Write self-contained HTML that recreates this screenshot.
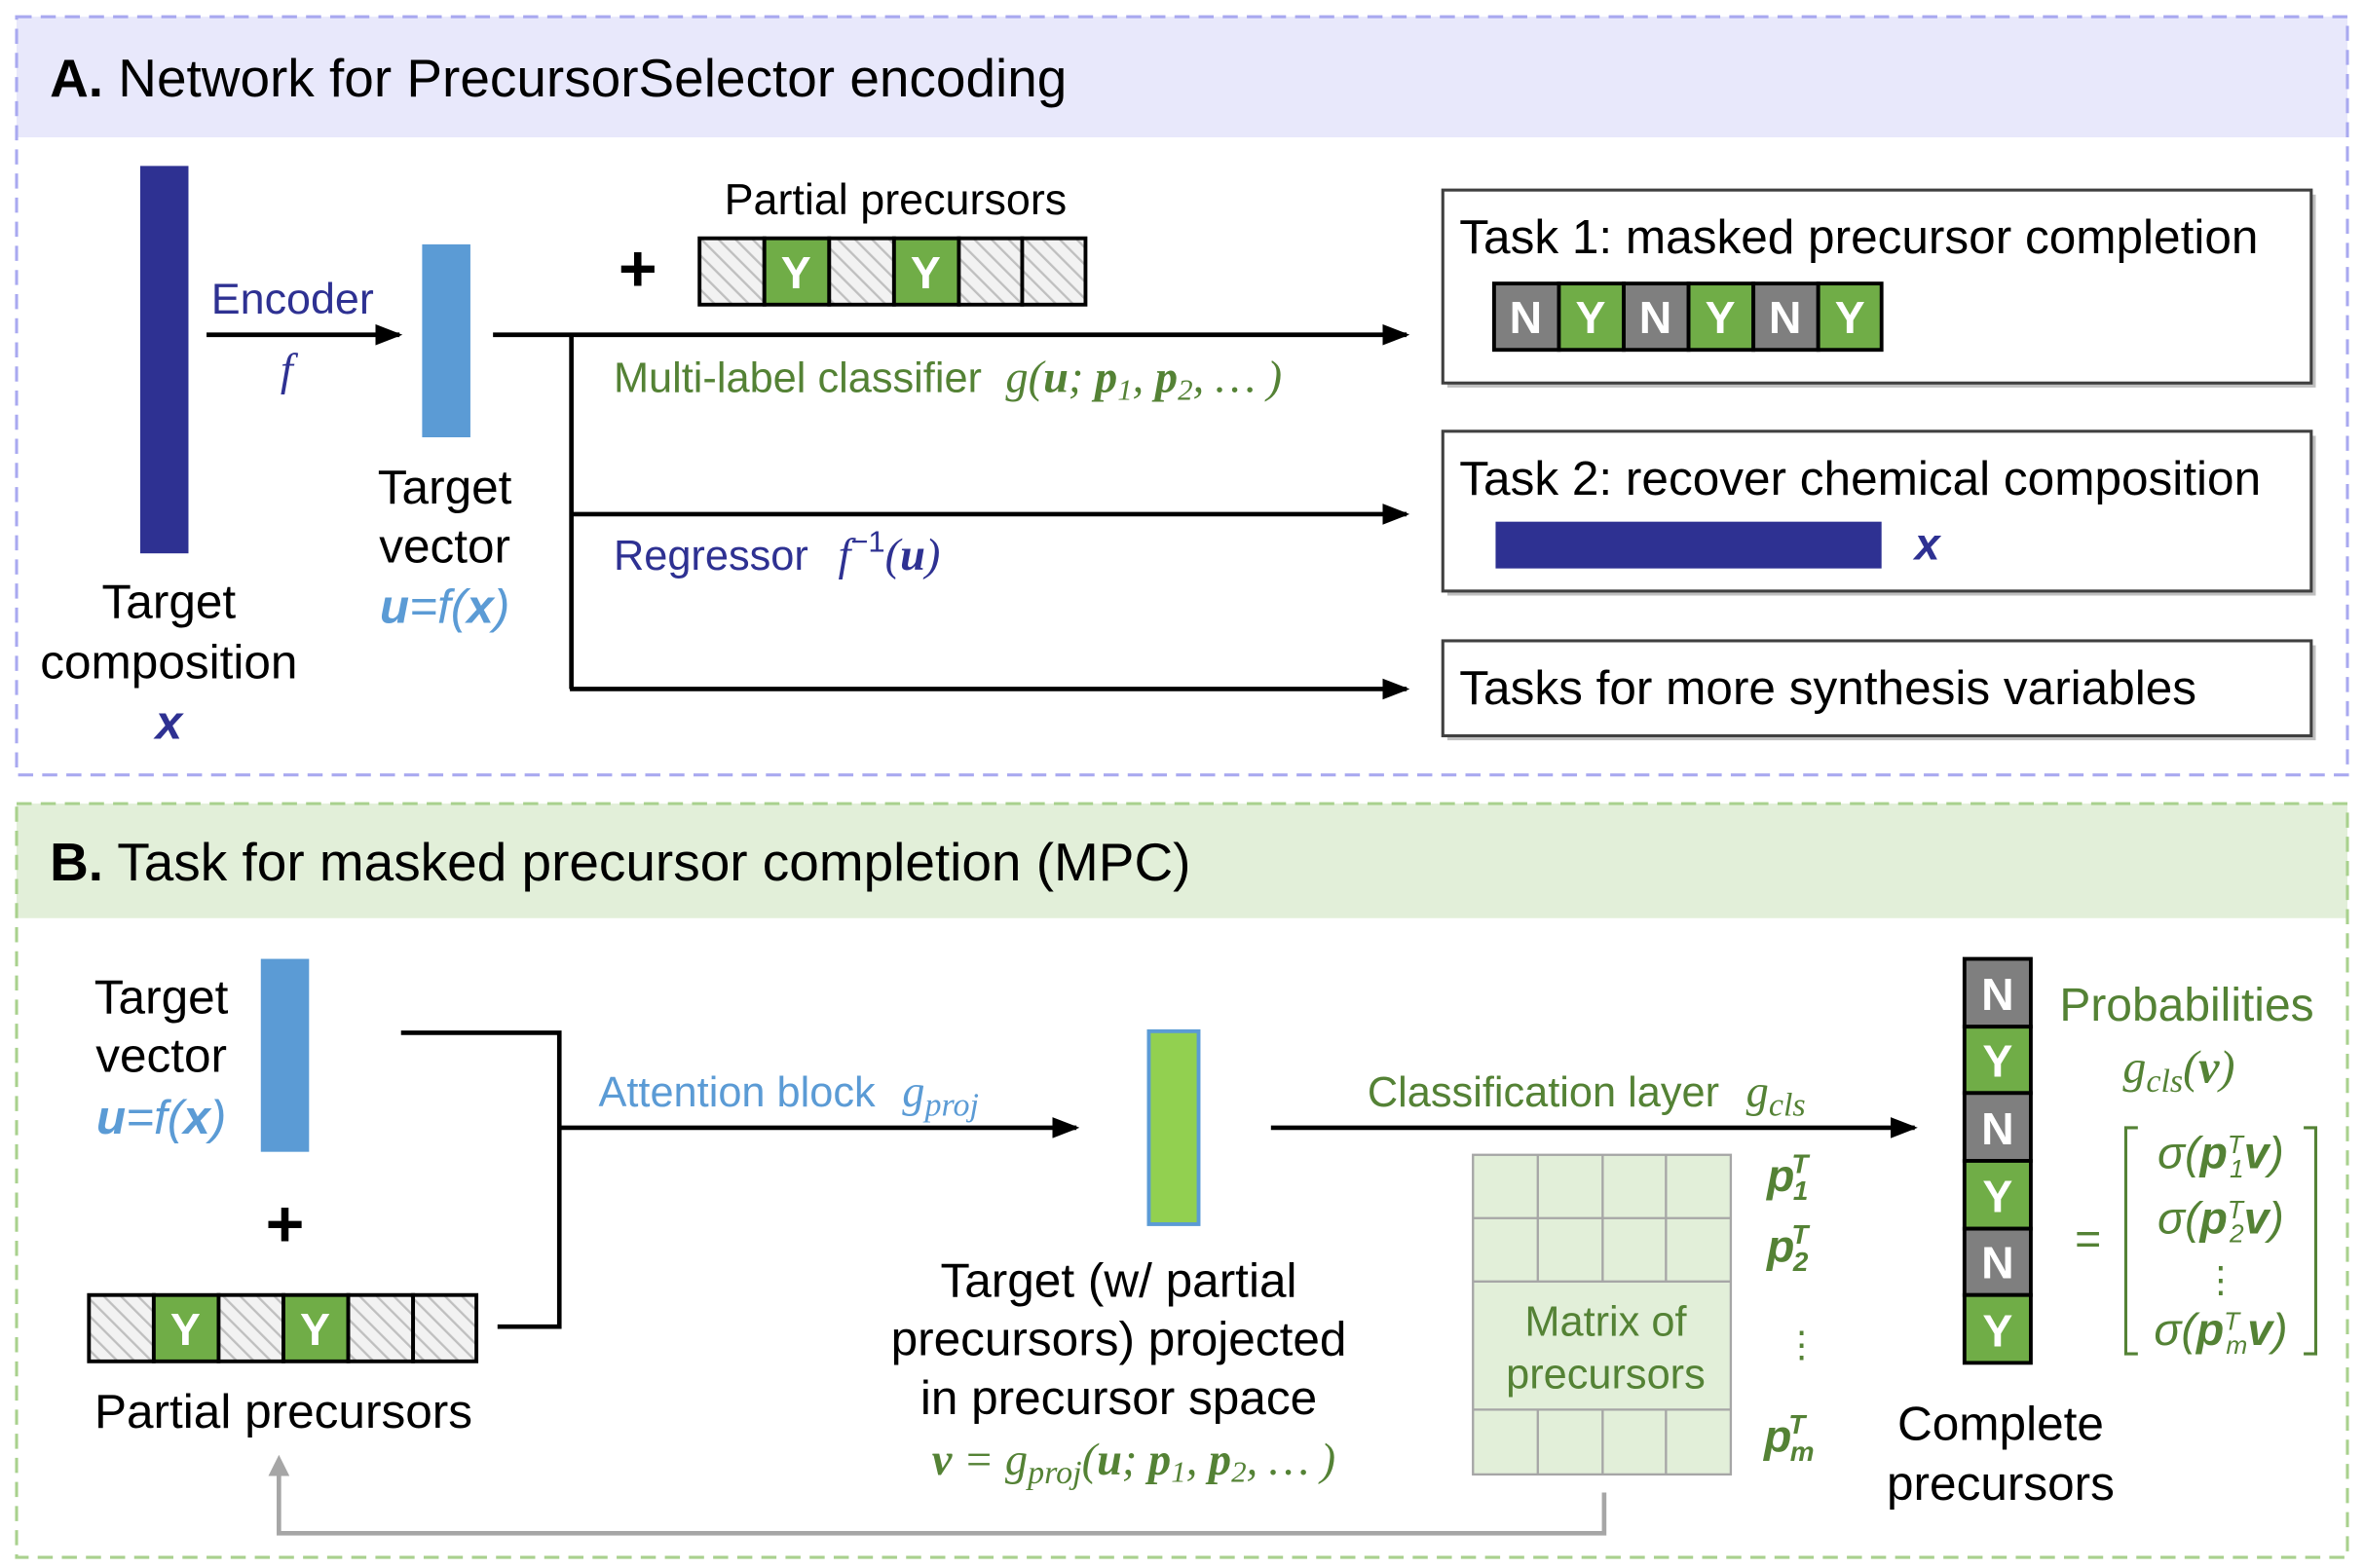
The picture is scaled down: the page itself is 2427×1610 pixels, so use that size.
<!DOCTYPE html>
<html><head><meta charset="utf-8"><style>
html,body{margin:0;padding:0;background:#fff}
svg{display:block}
text{font-family:"Liberation Sans",sans-serif}
.m{font-family:"Liberation Serif",serif;font-style:italic}
</style></head><body>
<svg width="2427" height="1610" viewBox="0 0 1568 1040" xmlns="http://www.w3.org/2000/svg">
<defs>
<pattern id="h" width="8" height="8" patternUnits="userSpaceOnUse" patternTransform="rotate(-45)">
<rect width="8" height="8" fill="#f2f2f2"/><line x1="0" y1="0" x2="0" y2="8" stroke="#bfbfbf" stroke-width="3"/></pattern>
<marker id="ag" markerWidth="14" markerHeight="14" refX="7" refY="7" orient="auto" markerUnits="userSpaceOnUse" viewBox="0 0 14 14"><path d="M0,0L14,7L0,14z" fill="#a6a6a6"/></marker>
<marker id="ab" markerWidth="18" markerHeight="14" refX="16" refY="7" orient="auto" markerUnits="userSpaceOnUse" viewBox="0 0 18 14"><path d="M0,0L18,7L0,14z" fill="#000"/></marker>
</defs>
<!-- Section A -->
<rect x="11" y="11" width="1546" height="80" fill="#e8e8fb"/>
<rect x="11" y="11" width="1546" height="503" fill="none" stroke="#a9a9f0" stroke-width="2" stroke-dasharray="10,6"/>
<text x="33" y="64" font-size="35.5"><tspan font-weight="bold">A.</tspan> Network for PrecursorSelector encoding</text>
<rect x="93" y="110" width="32" height="257" fill="#2e3192"/>
<text x="140" y="208" font-size="29" fill="#2e3192">Encoder</text>
<line x1="137" y1="222" x2="265" y2="222" stroke="#000" stroke-width="3" marker-end="url(#ab)"/>
<text x="186" y="255" font-size="30" fill="#2e3192" class="m">f</text>
<rect x="280" y="162" width="32" height="128" fill="#5b9bd5"/>
<g font-size="32" text-anchor="middle">
<text x="295" y="334">Target</text><text x="295" y="373">vector</text>
<text x="295" y="413" fill="#5b9bd5" font-style="italic"><tspan font-weight="bold">u</tspan>=f(<tspan font-weight="bold">x</tspan>)</text>
<text x="112" y="410">Target</text><text x="112" y="450">composition</text>
<text x="112" y="490" fill="#2e3192" font-style="italic" font-weight="bold">x</text>
</g>
<g stroke="#000" stroke-width="3" fill="none">
<line x1="327" y1="222" x2="933" y2="222" marker-end="url(#ab)"/>
<line x1="379" y1="222" x2="379" y2="457"/>
<line x1="379" y1="341" x2="933" y2="341" marker-end="url(#ab)"/>
<line x1="378" y1="457" x2="933" y2="457" marker-end="url(#ab)"/>
</g>
<text x="423" y="193" font-size="44" font-weight="bold" text-anchor="middle">+</text>
<text x="594" y="142" font-size="29" text-anchor="middle">Partial precursors</text>
<g stroke="#000" stroke-width="2.5">
<rect x="464" y="158" width="43" height="44" fill="url(#h)"/>
<rect x="507" y="158" width="43" height="44" fill="#70ad47"/>
<rect x="550" y="158" width="43" height="44" fill="url(#h)"/>
<rect x="593" y="158" width="43" height="44" fill="#70ad47"/>
<rect x="636" y="158" width="42" height="44" fill="url(#h)"/>
<rect x="678" y="158" width="42" height="44" fill="url(#h)"/>
</g>
<g font-size="30" font-weight="bold" fill="#fff" text-anchor="middle"><text x="528" y="191">Y</text><text x="614" y="191">Y</text></g>
<text x="407" y="260" font-size="28" fill="#548235">Multi-label classifier <tspan class="m" dx="8" font-size="30">g(<tspan font-weight="bold">u</tspan>; <tspan font-weight="bold">p</tspan><tspan font-size="20" dy="5">1</tspan><tspan dy="-5">, </tspan><tspan font-weight="bold">p</tspan><tspan font-size="20" dy="5">2</tspan><tspan dy="-5">, … )</tspan></tspan></text>
<text x="407" y="378" font-size="28" fill="#2e3192">Regressor <tspan class="m" dx="12" font-size="30">f</tspan><tspan font-size="20" dy="-12">−1</tspan><tspan class="m" font-size="30" dy="12">(<tspan font-weight="bold">u</tspan>)</tspan></text>
<g fill="#fff" stroke="#404040" stroke-width="2">
<rect x="960" y="129" width="576" height="128" fill="#bfbfbf" stroke="none"/>
<rect x="957" y="126" width="576" height="128"/>
<rect x="960" y="289" width="576" height="106" fill="#bfbfbf" stroke="none"/>
<rect x="957" y="286" width="576" height="106"/>
<rect x="960" y="428" width="576" height="63" fill="#bfbfbf" stroke="none"/>
<rect x="957" y="425" width="576" height="63"/>
</g>
<g font-size="32">
<text x="968" y="168">Task 1: masked precursor completion</text>
<text x="968" y="328">Task 2: recover chemical composition</text>
<text x="968" y="467">Tasks for more synthesis variables</text>
</g>
<g stroke="#000" stroke-width="2.5">
<rect x="991" y="188" width="43" height="44" fill="#7f7f7f"/>
<rect x="1034" y="188" width="43" height="44" fill="#70ad47"/>
<rect x="1077" y="188" width="43" height="44" fill="#7f7f7f"/>
<rect x="1120" y="188" width="43" height="44" fill="#70ad47"/>
<rect x="1163" y="188" width="43" height="44" fill="#7f7f7f"/>
<rect x="1206" y="188" width="42" height="44" fill="#70ad47"/>
</g>
<g font-size="30" font-weight="bold" fill="#fff" text-anchor="middle">
<text x="1012" y="221">N</text><text x="1055" y="221">Y</text><text x="1098" y="221">N</text><text x="1141" y="221">Y</text><text x="1184" y="221">N</text><text x="1227" y="221">Y</text></g>
<rect x="992" y="346" width="256" height="31" fill="#2e3192"/>
<text x="1270" y="371" font-size="30" fill="#2e3192" font-style="italic" font-weight="bold">x</text>

<!-- Section B -->
<rect x="11" y="533" width="1546" height="76" fill="#e2efd9"/>
<rect x="11" y="533" width="1546" height="500" fill="none" stroke="#a9d18e" stroke-width="2" stroke-dasharray="10,6"/>
<text x="33" y="584" font-size="35.5"><tspan font-weight="bold">B.</tspan> Task for masked precursor completion (MPC)</text>
<g font-size="32" text-anchor="middle">
<text x="107" y="672">Target</text><text x="107" y="711">vector</text>
<text x="107" y="752" fill="#5b9bd5" font-style="italic"><tspan font-weight="bold">u</tspan>=f(<tspan font-weight="bold">x</tspan>)</text>
<text x="188" y="947">Partial precursors</text>
<text x="742" y="860">Target (w/ partial</text>
<text x="742" y="899">precursors) projected</text>
<text x="742" y="938">in precursor space</text>
<text x="1327" y="955">Complete</text><text x="1327" y="995">precursors</text>
</g>
<rect x="173" y="636" width="32" height="128" fill="#5b9bd5"/>
<text x="189" y="827" font-size="44" font-weight="bold" text-anchor="middle">+</text>
<g stroke="#000" stroke-width="2.5">
<rect x="59" y="859" width="43" height="44" fill="url(#h)"/>
<rect x="102" y="859" width="43" height="44" fill="#70ad47"/>
<rect x="145" y="859" width="43" height="44" fill="url(#h)"/>
<rect x="188" y="859" width="43" height="44" fill="#70ad47"/>
<rect x="231" y="859" width="43" height="44" fill="url(#h)"/>
<rect x="274" y="859" width="42" height="44" fill="url(#h)"/>
</g>
<g font-size="30" font-weight="bold" fill="#fff" text-anchor="middle"><text x="123" y="892">Y</text><text x="209" y="892">Y</text></g>
<g stroke="#000" stroke-width="3" fill="none">
<polyline points="266,685 371,685 371,880 330,880"/>
<line x1="371" y1="748" x2="714" y2="748" marker-end="url(#ab)"/>
<line x1="843" y1="748" x2="1270" y2="748" marker-end="url(#ab)"/>
</g>
<text x="397" y="734" font-size="28" fill="#5b9bd5">Attention block <tspan class="m" dx="10" font-size="30">g</tspan><tspan class="m" font-size="22" dy="6">proj</tspan></text>
<text x="907" y="734" font-size="28" fill="#548235">Classification layer <tspan class="m" dx="10" font-size="30">g</tspan><tspan class="m" font-size="22" dy="6">cls</tspan></text>
<rect x="762" y="684" width="33" height="128" fill="#92d050" stroke="#5b9bd5" stroke-width="2.5"/>
<text x="752" y="978" font-size="30" fill="#548235" text-anchor="middle" class="m"><tspan font-weight="bold">v</tspan> = g<tspan font-size="22" dy="6">proj</tspan><tspan dy="-6">(<tspan font-weight="bold">u</tspan>; <tspan font-weight="bold">p</tspan></tspan><tspan font-size="20" dy="5">1</tspan><tspan dy="-5">, <tspan font-weight="bold">p</tspan></tspan><tspan font-size="20" dy="5">2</tspan><tspan dy="-5">, … )</tspan></text>
<!-- matrix -->
<rect x="977" y="766" width="171" height="212" fill="#e2efd9" stroke="#a6a6a6" stroke-width="1.5"/>
<g stroke="#a6a6a6" stroke-width="1.5">
<line x1="977" y1="808" x2="1148" y2="808"/><line x1="977" y1="850" x2="1148" y2="850"/><line x1="977" y1="935" x2="1148" y2="935"/>
<line x1="1020" y1="766" x2="1020" y2="850"/><line x1="1063" y1="766" x2="1063" y2="850"/><line x1="1105" y1="766" x2="1105" y2="850"/>
<line x1="1020" y1="935" x2="1020" y2="978"/><line x1="1063" y1="935" x2="1063" y2="978"/><line x1="1105" y1="935" x2="1105" y2="978"/>
</g>
<g font-size="28" fill="#548235" text-anchor="middle"><text x="1065" y="886">Matrix of</text><text x="1065" y="921">precursors</text></g>
<g font-size="30" fill="#548235" class="m" font-weight="bold">
<text x="1172" y="790">p<tspan font-size="18" dx="-2" dy="-12">T</tspan><tspan font-size="18" dx="-10" dy="18">1</tspan></text>
<text x="1172" y="837">p<tspan font-size="18" dx="-2" dy="-12">T</tspan><tspan font-size="18" dx="-10" dy="18">2</tspan></text>
<text x="1183" y="900" font-style="normal" font-size="24" font-weight="normal">⋮</text>
<text x="1170" y="963">p<tspan font-size="18" dx="-2" dy="-12">T</tspan><tspan font-size="18" dx="-10" dy="18">m</tspan></text>
</g>
<polyline points="1064,990 1064,1017 185,1017 185,972" fill="none" stroke="#a6a6a6" stroke-width="3" marker-end="url(#ag)"/>
<!-- column -->
<g stroke="#000" stroke-width="2.5">
<rect x="1303" y="636" width="44" height="45" fill="#7f7f7f"/>
<rect x="1303" y="681" width="44" height="44" fill="#70ad47"/>
<rect x="1303" y="725" width="44" height="45" fill="#7f7f7f"/>
<rect x="1303" y="770" width="44" height="45" fill="#70ad47"/>
<rect x="1303" y="815" width="44" height="44" fill="#7f7f7f"/>
<rect x="1303" y="859" width="44" height="45" fill="#70ad47"/>
</g>
<g font-size="30" font-weight="bold" fill="#fff" text-anchor="middle">
<text x="1325" y="670">N</text><text x="1325" y="714">Y</text><text x="1325" y="759">N</text><text x="1325" y="804">Y</text><text x="1325" y="848">N</text><text x="1325" y="893">Y</text></g>
<text x="1366" y="677" font-size="31" fill="#548235">Probabilities</text>
<text x="1408" y="718" font-size="31" fill="#548235" class="m">g<tspan font-size="22" dy="6">cls</tspan><tspan dy="-6">(<tspan font-weight="bold">v</tspan>)</tspan></text>
<text x="1385" y="832" font-size="30" fill="#548235" text-anchor="middle">=</text>
<g stroke="#548235" stroke-width="2" fill="none">
<polyline points="1418,748 1410,748 1410,898 1418,898"/>
<polyline points="1528,748 1536,748 1536,898 1528,898"/>
</g>
<g font-size="30" fill="#548235" class="m" text-anchor="middle">
<text x="1473" y="775">σ(<tspan font-weight="bold">p</tspan><tspan font-size="17" dy="-10">T</tspan><tspan font-size="17" dx="-9" dy="16">1</tspan><tspan dy="-6" font-weight="bold">v</tspan>)</text>
<text x="1473" y="818">σ(<tspan font-weight="bold">p</tspan><tspan font-size="17" dy="-10">T</tspan><tspan font-size="17" dx="-9" dy="16">2</tspan><tspan dy="-6" font-weight="bold">v</tspan>)</text>
<text x="1473" y="857" font-style="normal" font-size="24">⋮</text>
<text x="1473" y="892">σ(<tspan font-weight="bold">p</tspan><tspan font-size="17" dy="-10">T</tspan><tspan font-size="17" dx="-9" dy="16">m</tspan><tspan dy="-6" font-weight="bold">v</tspan>)</text>
</g>
</svg>
</body></html>
